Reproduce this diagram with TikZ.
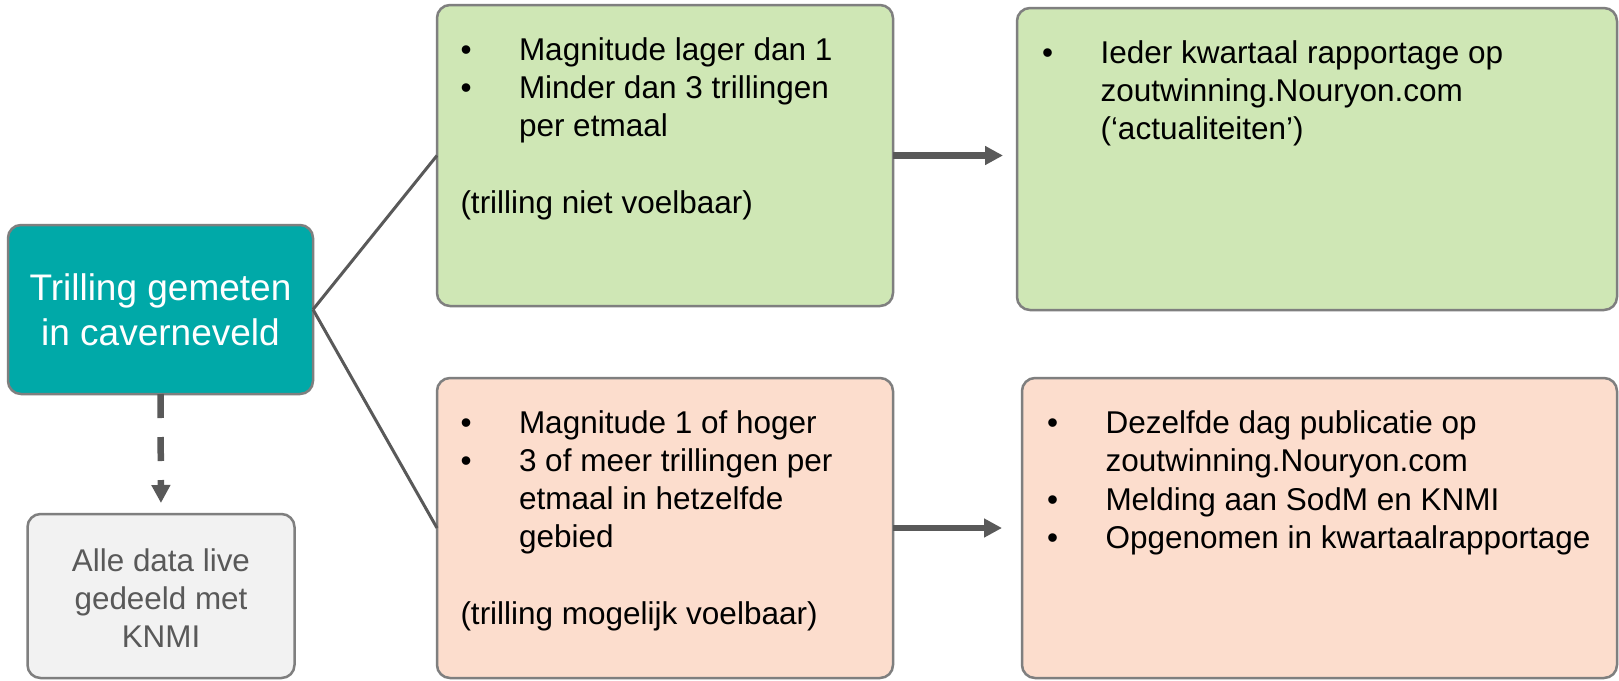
\documentclass[tikz,border=0pt]{standalone}
\usepackage{fontspec}
\setmainfont{Liberation Sans}
\usetikzlibrary{arrows.meta}

\definecolor{tealbox}{RGB}{0,169,168}
\definecolor{greenbox}{RGB}{207,231,181}
\definecolor{pinkbox}{RGB}{252,221,205}
\definecolor{greybox}{RGB}{242,242,242}
\definecolor{edgegrey}{RGB}{127,127,127}
\definecolor{wire}{RGB}{89,89,89}
\definecolor{softtext}{RGB}{89,89,89}

% bullet item and continuation indent for the list boxes
\newcommand\itm{\makebox[58.5pt][l]{•}}
\newcommand\cnt{\hspace*{58.5pt}}
\newcommand\bodyfont{\fontsize{31.5}{38.3}\selectfont}

\tikzset{
  box/.style={draw=edgegrey, line width=2.5pt, rounded corners=13pt,
              inner sep=0pt, outer sep=0pt},
  body/.style={anchor=base west, inner sep=0pt, outer sep=0pt, font=\bodyfont},
  link/.style={draw=wire, line width=3pt},
  flow/.style={draw=wire, line width=6.5pt, -{Triangle[length=18pt,width=18pt]}},
  feed/.style={draw=wire, line width=6.5pt, dash pattern=on 24pt off 19pt,
               -{Triangle[length=18pt,width=18pt]}},
}

\begin{document}
\begin{tikzpicture}[x=1pt, y=-1pt]
  \useasboundingbox (0,0) rectangle (1619,680);
  \fill[white] (0,0) rectangle (1619,680);

  % boxes
  \node[box, fill=tealbox, minimum width=305pt, minimum height=169pt] (tl) at (160.5,309.5) {};
  \node[box, fill=greybox, minimum width=267pt, minimum height=164pt] (gr) at (161,596) {};
  \node[box, fill=greenbox, minimum width=456pt, minimum height=301pt] (g1) at (665,155.5) {};
  \node[box, fill=greenbox, minimum width=600pt, minimum height=302pt] (g2) at (1317,159) {};
  \node[box, fill=pinkbox, minimum width=456pt, minimum height=300pt] (p1) at (665,528) {};
  \node[box, fill=pinkbox, minimum width=595pt, minimum height=300pt] (p2) at (1319.5,528) {};

  % box texts
  \node[align=center, text=white, inner sep=0pt, font=\fontsize{37}{45}\selectfont] (tlt)
    at (tl.center) {Trilling gemeten\\in caverneveld};
  \node[align=center, text=softtext, inner sep=0pt, font=\fontsize{31.4}{38}\selectfont] (grt)
    at ([yshift=-2.5pt]gr.center) {Alle data live\\gedeeld met\\KNMI};

  \node[body] (g1t) at ([shift={(23.5pt,-55pt)}]g1.north west)
    {\parbox[t]{430pt}{\bodyfont\raggedright
      \itm Magnitude lager dan 1\\
      \itm Minder dan 3 trillingen\\
      \cnt per etmaal\\
      \mbox{}\\
      (trilling niet voelbaar)}};

  \node[body] (p1t) at ([shift={(23.5pt,-55pt)}]p1.north west)
    {\parbox[t]{430pt}{\bodyfont\raggedright
      \itm Magnitude 1 of hoger\\
      \itm 3 of meer trillingen per\\
      \cnt etmaal in hetzelfde\\
      \cnt gebied\\
      \mbox{}\\
      (trilling mogelijk voelbaar)}};

  \node[body] (g2t) at ([shift={(25pt,-55pt)}]g2.north west)
    {\parbox[t]{570pt}{\bodyfont\raggedright
      \itm Ieder kwartaal rapportage op\\
      \cnt zoutwinning.Nouryon.com\\
      \cnt (‘actualiteiten’)}};

  \node[body] (p2t) at ([shift={(25pt,-55.5pt)}]p2.north west)
    {\parbox[t]{570pt}{\bodyfont\raggedright
      \itm Dezelfde dag publicatie op\\
      \cnt zoutwinning.Nouryon.com\\
      \itm Melding aan SodM en KNMI\\
      \itm Opgenomen in kwartaalrapportage}};

  % connectors
  \draw[link] (tl.east) -- (g1.west);
  \draw[link] (tl.east) -- (p1.west);
  \draw[flow, shorten >=14pt] (g1.east) -- (g2.west |- g1.east);
  \draw[flow, shorten >=20pt] (p1.east) -- (p2.west);
  \draw[feed, shorten >=11pt] (tl.south) -- (gr.north);
\end{tikzpicture}
\end{document}
